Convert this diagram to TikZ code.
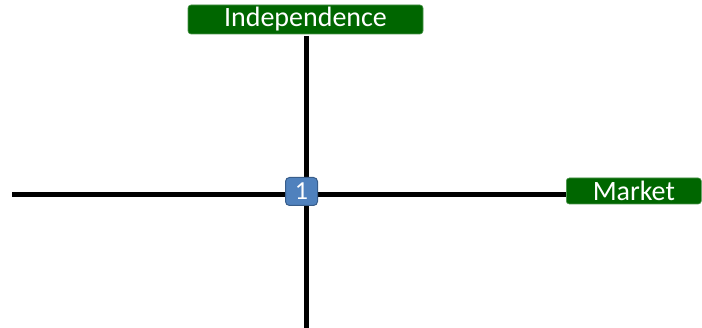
\documentclass[tikz,border=0pt]{standalone}
\usepackage{fontspec}
\setmainfont{Carlito}
\definecolor{dgreen}{HTML}{006600}
\definecolor{bfill}{HTML}{4F81BD}
\definecolor{bdraw}{HTML}{385D8A}
\begin{document}
\begin{tikzpicture}[x=1pt,y=-1pt,
  gbox/.style={fill=dgreen,draw=dgreen!70!white,line width=0.6pt,rounded corners=3pt,text=white,font=\fontsize{28}{28}\selectfont,inner sep=0pt},
  bbox/.style={fill=bfill,draw=bdraw,line width=1pt,rounded corners=4pt,text=white,font=\fontsize{26}{26}\selectfont,inner sep=0pt},
  axis/.style={line width=5pt,black}]
\useasboundingbox (0,0) rectangle (702,328);
\node[gbox,minimum width=235pt,minimum height=29pt] (ind) at (305.5,19.5) {Independence};
\node[gbox,minimum width=135pt,minimum height=26pt,anchor=west] (mkt) at (566,191) {Market};
\coordinate (left) at (12,195);
\coordinate (bottom) at (306.5,328);
\coordinate (top) at (306.5,36);
\draw[axis] (left) -- (mkt.west |- left);
\draw[axis] (top) -- (bottom);
\node[bbox,minimum width=32pt,minimum height=28pt] (one) at (301.5,191.5) {1};
\end{tikzpicture}
\end{document}
